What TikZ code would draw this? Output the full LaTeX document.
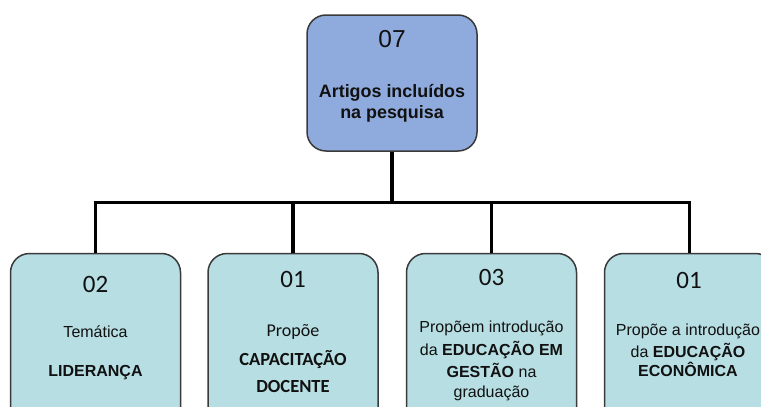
\documentclass[tikz,border=0pt]{standalone}
\usepackage{fontspec}
\setmainfont{Liberation Sans}
\newfontfamily\arialf{Liberation Sans}
\newfontfamily\calf{Carlito}
\definecolor{topfill}{HTML}{8FAADC}
\definecolor{botfill}{HTML}{B7DEE3}
\definecolor{edge}{HTML}{3A3A3A}
\definecolor{ink}{HTML}{111111}
\begin{document}
\begin{tikzpicture}[x=1pt,y=-1pt,
  box/.style={draw=edge, line width=1.5pt, rounded corners=19pt, minimum width=170pt, inner sep=0pt, text=ink},
  topbox/.style={box, fill=topfill, minimum height=136pt},
  botbox/.style={box, fill=botfill, minimum height=180pt},
  conn/.style={line width=3.2pt, black},
  txt/.style={anchor=base, inner sep=0pt, text=ink},
  num/.style={txt, font=\calf\fontsize{25}{29}\selectfont},
  ar/.style={txt, font=\arialf\fontsize{16}{19}\selectfont},
  arb/.style={txt, font=\arialf\bfseries\fontsize{16}{19}\selectfont},
  ca/.style={txt, font=\calf\fontsize{18}{22}\selectfont},
  cab/.style={txt, font=\calf\bfseries\fontsize{18.5}{22}\selectfont}]
\useasboundingbox (0,0) rectangle (761,407);
\clip (0,0) rectangle (761,407);

% boxes
\node[topbox] (top) at (392,83) {};
\node[botbox] (b1) at (95.5,343.5) {};
\node[botbox] (b2) at (293,343.5) {};
\node[botbox] (b3) at (491.5,343.5) {};
\node[botbox] (b4) at (689.5,343.5) {};

% connectors
\coordinate (hub) at (392,202.5);
\draw[conn] (top.south) -- (hub);
\draw[conn] (hub) -| (b1.north);
\draw[conn] (hub) -| (b4.north);
\draw[conn] (b2.north |- hub) -- (b2.north);
\draw[conn] (b3.north |- hub) -- (b3.north);

% top texts
\node[txt, font=\arialf\fontsize{24.5}{28}\selectfont] (t0) at (392,47) {07};
\node[txt, font=\arialf\bfseries\fontsize{17.9}{21}\selectfont] (t1) at (392,97) {Artigos incluídos};
\node[txt, font=\arialf\bfseries\fontsize{17.9}{21}\selectfont] (t2) at (392,118) {na pesquisa};

% box 1
\node[num] (n1) at (95.5,292) {02};
\node[ar] (l11) at (95.5,337) {Temática};
\node[arb] (l12) at (95.5,376) {LIDERANÇA};

% box 2
\node[num] (n2) at (293,287) {01};
\node[ca] (l21) at (293,336) {Propõe};
\node[cab] (l22) at (293,365) {CAPACITAÇÃO};
\node[cab] (l23) at (293,392) {DOCENTE};

% box 3
\node[num] (n3) at (491.5,285) {03};
\node[ar] (l31) at (491.5,332) {Propõem introdução};
\node[ar] (l32) at (491.5,355) {da \textbf{EDUCAÇÃO EM}};
\node[ar] (l33) at (491.5,377) {\textbf{GESTÃO} na};
\node[ar] (l34) at (491.5,397) {graduação};

% box 4
\node[num] (n4) at (689,288) {01};
\node[ar] (l41) at (688,335) {Propõe a introdução};
\node[ar] (l42) at (688,357) {da \textbf{EDUCAÇÃO}};
\node[arb] (l43) at (688,376) {ECONÔMICA};
\end{tikzpicture}
\end{document}
